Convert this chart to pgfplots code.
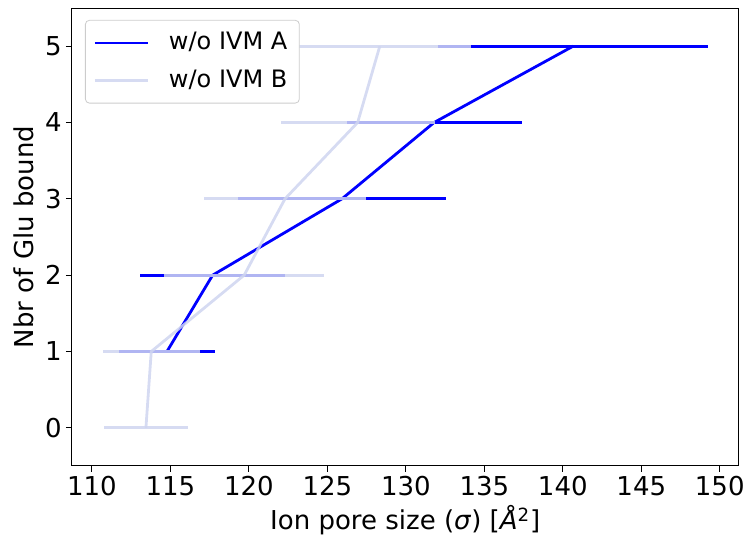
\documentclass[border=0pt]{standalone}
\usepackage{fontspec}
\setmainfont{DejaVu Sans}
\usepackage{pgfplots}
\usepackage{pgfplotstable}
\pgfplotsset{compat=1.18}
\definecolor{lav}{RGB}{207,213,240}
\definecolor{legbord}{RGB}{204,204,204}
\pgfplotstableread{
x y ex
114.78 1 3.05
117.69 2 4.6
125.93 3 6.6
131.8 4 5.57
140.66 5 8.6
}\dataA
\pgfplotstableread{
x y ex
113.44 0 2.66
113.78 1 3.1
119.7 2 5.1
122.3 3 5.13
126.93 4 4.9
128.34 5 5.8
}\dataB
\begin{document}
\fontsize{13}{15.6}\selectfont
\begin{tikzpicture}
\begin{axis}[
 scale only axis, width=333.3pt, height=229pt,
 xmin=108.73, xmax=151.2, ymin=-0.5, ymax=5.5,
 xtick={110,115,...,150}, ytick={0,1,2,3,4,5},
 tick align=outside, tick pos=left, major tick length=3pt,
 every tick/.style={black, line width=0.5pt},
 axis line style={line width=0.5pt},
 /pgf/number format/assume math mode=true,
 /pgf/number format/1000 sep={},
 tick label style={font=\fontsize{13}{15.6}\selectfont},
 xticklabel style={inner sep=2pt},
 yticklabel style={inner sep=2pt},
 xlabel={Ion pore size (\textit{σ}) [\textit{Å}\textsuperscript{2}]},
 ylabel={Nbr of Glu bound},
 xlabel style={at={(axis description cs:0.5,0)}, anchor=base, yshift=-32pt},
 ylabel style={at={([xshift=-19pt]axis description cs:0,0.5)}, anchor=base},
 legend style={at={(0.0195,0.974)}, anchor=north west, draw=legbord, rounded corners=2pt,
   fill=white, inner xsep=4pt, inner ysep=4pt, row sep=4pt, column sep=8pt,
   font=\fontsize{12}{14.4}\selectfont},
 legend cell align=left,
 legend image code/.code={\draw[#1] (0pt,0pt) -- (26.4pt,0pt);},
]
\addplot[blue, line width=1.4pt, mark=none,
  error bars/.cd, x dir=both, x explicit,
  error bar style={line width=1.4pt, blue}, error mark=none]
  table[x=x, y=y, x error=ex] {\dataA};
\addlegendentry{w/o IVM A}
\addplot[lav, line width=1.4pt, mark=none, opacity=0.85,
  error bars/.cd, x dir=both, x explicit,
  error bar style={line width=1.4pt, lav, opacity=0.85}, error mark=none]
  table[x=x, y=y, x error=ex] {\dataB};
\addlegendentry{w/o IVM B}
\end{axis}
\pgfresetboundingbox
\path[use as bounding box] (-36pt,-36.5pt) rectangle (337pt,233pt);
\end{tikzpicture}
\end{document}
